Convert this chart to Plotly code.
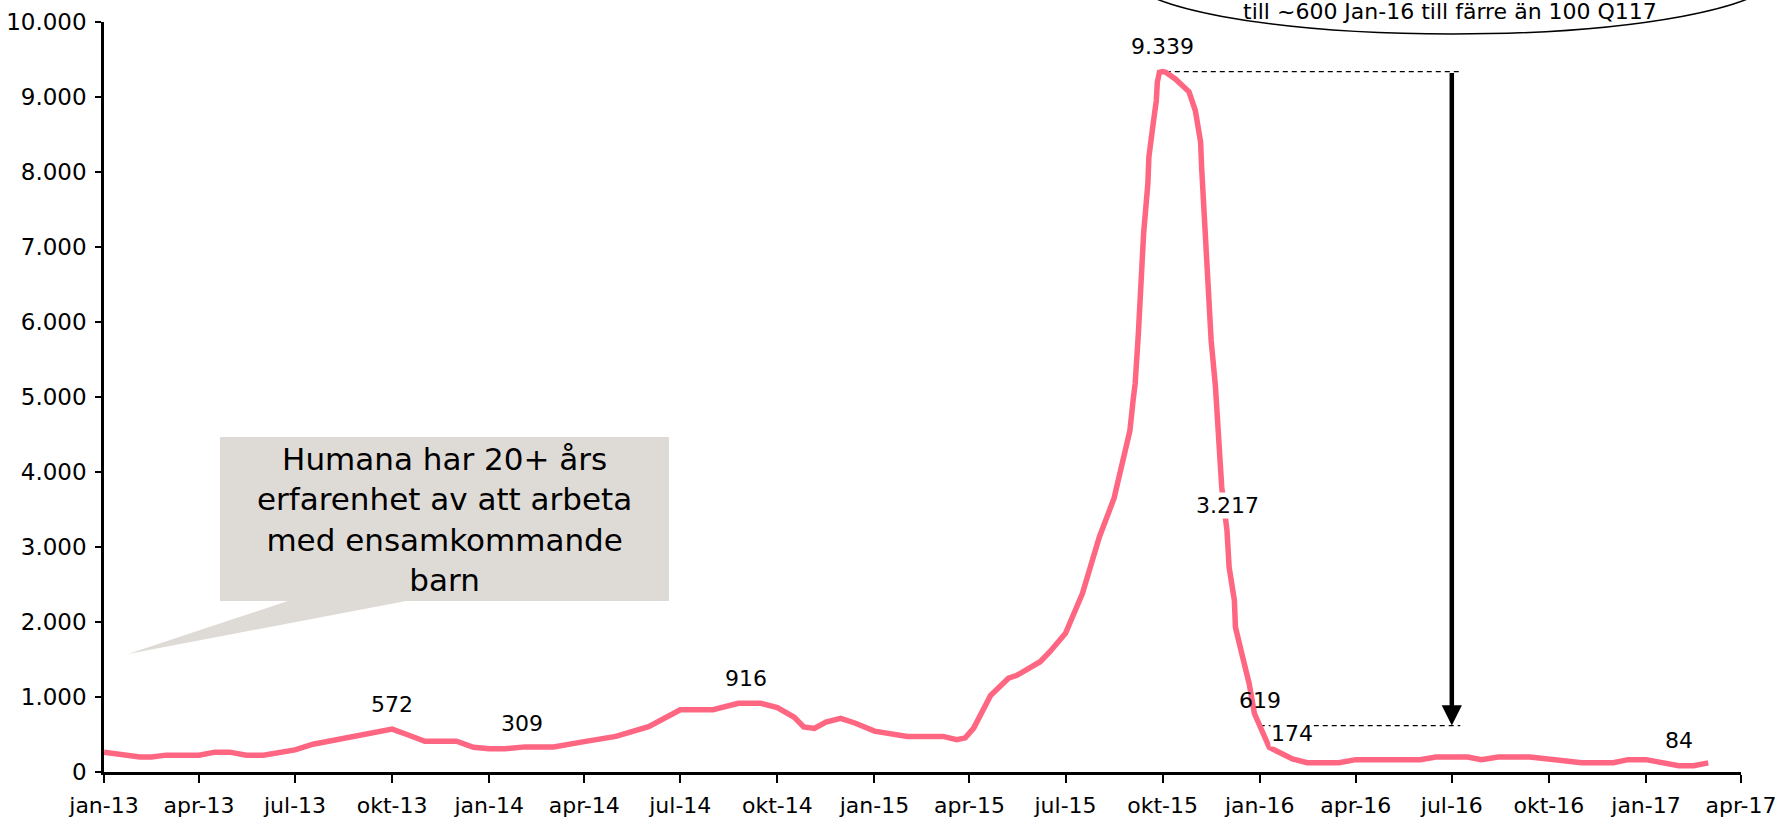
import plotly.graph_objects as go

# monthly-ish readings of the curve (antal per period)
dates = [
    "2013-01-01", "2013-02-04", "2013-02-15", "2013-03-01", "2013-04-01", "2013-04-16",
    "2013-04-30", "2013-05-16", "2013-06-01", "2013-07-01", "2013-07-18", "2013-08-11",
    "2013-08-30", "2013-10-01", "2013-10-15", "2013-11-01", "2013-12-01", "2013-12-17",
    "2014-01-01", "2014-01-16", "2014-02-04", "2014-03-03", "2014-04-01", "2014-05-01",
    "2014-06-01", "2014-07-01", "2014-08-01", "2014-08-25", "2014-09-15", "2014-10-01",
    "2014-10-17", "2014-10-26", "2014-11-05", "2014-11-16", "2014-11-30", "2014-12-14",
    "2015-01-01", "2015-02-01", "2015-03-07", "2015-03-20", "2015-03-28", "2015-04-05",
    "2015-04-21", "2015-05-08", "2015-05-16", "2015-06-07", "2015-06-16", "2015-07-01",
    "2015-07-17", "2015-08-02", "2015-08-16", "2015-08-21", "2015-08-31", "2015-09-03",
    "2015-09-05", "2015-09-08", "2015-09-10", "2015-09-13", "2015-09-17", "2015-09-18",
    "2015-09-22", "2015-09-25", "2015-09-26", "2015-09-28", "2015-10-01", "2015-10-04",
    "2015-10-13", "2015-10-26", "2015-11-01", "2015-11-06", "2015-11-07", "2015-11-11",
    "2015-11-14", "2015-11-16", "2015-11-20", "2015-11-23", "2015-11-26", "2015-12-01",
    "2015-12-03", "2015-12-08", "2015-12-09", "2015-12-15", "2015-12-22", "2015-12-27",
    "2016-01-01", "2016-01-10", "2016-01-16", "2016-02-01", "2016-02-15", "2016-03-16",
    "2016-04-01", "2016-06-01", "2016-06-16", "2016-07-16", "2016-07-29", "2016-08-14",
    "2016-09-13", "2016-10-01", "2016-11-01", "2016-12-01", "2016-12-15", "2017-01-01",
    "2017-02-01", "2017-02-15", "2017-03-01",
]
values = [
    265, 200, 200, 225, 225, 265,
    265, 225, 225, 295, 370, 430,
    475, 572, 500, 410, 410, 330,
    309, 309, 335, 335, 405, 475,
    605, 830, 830, 916, 916, 860,
    730, 600, 580, 665, 715, 650,
    545, 475, 475, 430, 455, 585,
    1020, 1250, 1290, 1470, 1600, 1850,
    2380, 3130, 3650, 3930, 4550, 4950,
    5180, 5840, 6460, 7180, 7840, 8200,
    8640, 8950, 9200, 9330, 9339, 9330,
    9240, 9070, 8820, 8400, 8050, 7080,
    6110, 5750, 5150, 4420, 3800, 3217,
    2730, 2290, 1930, 1580, 1180, 780,
    619, 330, 287, 174, 125, 125,
    165, 165, 200, 200, 165, 200,
    200, 175, 125, 125, 165, 165,
    84, 84, 122,
]

# data labels
label_dates = ["2013-10-01", "2014-02-01", "2014-09-01", "2015-10-01",
               "2015-12-01", "2016-01-01", "2016-02-01", "2017-02-01"]
label_values = [572, 309, 916, 9339, 3217, 619, 174, 84]
label_bg = [False, False, False, False, True, False, True, False]

tick_dates = ["2013-01-01", "2013-04-01", "2013-07-01", "2013-10-01",
              "2014-01-01", "2014-04-01", "2014-07-01", "2014-10-01",
              "2015-01-01", "2015-04-01", "2015-07-01", "2015-10-01",
              "2016-01-01", "2016-04-01", "2016-07-01", "2016-10-01",
              "2017-01-01", "2017-04-01"]
tick_text = ["jan-13", "apr-13", "jul-13", "okt-13", "jan-14", "apr-14", "jul-14", "okt-14",
             "jan-15", "apr-15", "jul-15", "okt-15", "jan-16", "apr-16", "jul-16", "okt-16",
             "jan-17", "apr-17"]

peak_value = 9339
jan16_value = 619

callout_text = "Humana har 20+ års<br>erfarenhet av att arbeta<br>med ensamkommande<br>barn"
oval_text = "till ~600 Jan-16 till färre än 100 Q117"

FONT = "Verdana, DejaVu Sans, sans-serif"
W, H = 1779, 817
ML, MR, MT, MB = 104, 38, 22, 45
PW, PH = W - ML - MR, H - MT - MB


def px(x, y):
    """pixel position -> paper coords"""
    return (x - ML) / PW, (H - MB - y) / PH


fig = go.Figure()
fig.add_trace(go.Scatter(
    x=dates, y=values, mode="lines",
    line=dict(color="#FF6682", width=5.5),
    showlegend=False, hoverinfo="x+y",
))

# data labels
for d, v, bg in zip(label_dates, label_values, label_bg):
    fig.add_annotation(
        x=d, y=v, xref="x", yref="y", showarrow=False,
        text=f"{v:,}".replace(",", "."), yshift=25,
        xanchor="center", yanchor="middle",
        font=dict(family=FONT, size=22, color="black"),
        bgcolor="white" if bg else "rgba(0,0,0,0)", borderpad=0,
    )

# dashed guide lines + arrow
fig.add_shape(type="line", xref="x", yref="y", x0="2015-10-04", x1="2016-07-08",
              y0=peak_value, y1=peak_value, line=dict(color="black", width=1.2, dash="5px,4px"),
              layer="below")
fig.add_shape(type="line", xref="x", yref="y", x0="2016-01-01", x1="2016-07-09",
              y0=jan16_value, y1=jan16_value, line=dict(color="black", width=1.2, dash="5px,4px"),
              layer="below")
fig.add_annotation(
    x="2016-07-01", y=jan16_value, ax="2016-07-01", ay=peak_value,
    xref="x", yref="y", axref="x", ayref="y", text="", showarrow=True,
    arrowhead=2, arrowwidth=4.5, arrowsize=0.9, arrowcolor="black", standoff=0,
)

# callout box with pointer
bx0, by0 = px(220, 437)
bx1, by1 = px(669, 601)
p1 = px(288, 601)
p2 = px(406, 601)
tip = px(128, 654)
fig.add_shape(type="rect", xref="paper", yref="paper", x0=bx0, x1=bx1, y0=by1, y1=by0,
              fillcolor="#DEDAD5", line=dict(width=0))
fig.add_shape(type="path", xref="paper", yref="paper",
              path=f"M {p1[0]},{p1[1]} L {tip[0]},{tip[1]} L {p2[0]},{p2[1]} Z",
              fillcolor="#DEDAD5", line=dict(width=0))
cx, cy = px(444.5, 519)
fig.add_annotation(x=cx, y=cy, xref="paper", yref="paper", text=callout_text,
                   showarrow=False, align="center", xanchor="center", yanchor="middle",
                   font=dict(family=FONT, size=31, color="black"))

# oval at the top (partly outside the picture)
ox0, oy0 = px(1127, 34)
ox1, oy1 = px(1777, -86)
fig.add_shape(type="circle", xref="paper", yref="paper", x0=ox0, x1=ox1, y0=oy0, y1=oy1,
              fillcolor="white", line=dict(color="black", width=1.5))
tx, ty = px(1450, 12)
fig.add_annotation(x=tx, y=ty, xref="paper", yref="paper", text=oval_text,
                   showarrow=False, xanchor="center", yanchor="middle",
                   font=dict(family=FONT, size=22, color="black"))

fig.update_layout(
    width=W, height=H,
    margin=dict(l=ML, r=MR, t=MT, b=MB, autoexpand=False),
    plot_bgcolor="white", paper_bgcolor="white",
    separators=",.",
    font=dict(family=FONT, size=20, color="black"),
    xaxis=dict(
        type="date", range=["2013-01-01", "2017-04-01"],
        tickmode="array", tickvals=tick_dates, ticktext=tick_text,
        showgrid=False, zeroline=False, automargin=False,
        showline=True, linecolor="black", linewidth=2.5,
        ticks="outside", ticklen=8, tickwidth=1.5, tickcolor="black",
        ticklabelstandoff=4,
        tickfont=dict(family=FONT, size=22),
    ),
    yaxis=dict(
        range=[0, 10000], dtick=1000, tickformat=",.0f",
        showgrid=False, zeroline=False, automargin=False,
        showline=True, linecolor="black", linewidth=2.5,
        ticks="outside", ticklen=6, tickwidth=1.5, tickcolor="black",
        ticklabelstandoff=4,
        tickfont=dict(family=FONT, size=23),
    ),
)

# drop the default page margin so the figure sits at the window's corner
fig.write_html("out.html", config={"displayModeBar": False},
               post_script="document.body.style.margin='0';")
